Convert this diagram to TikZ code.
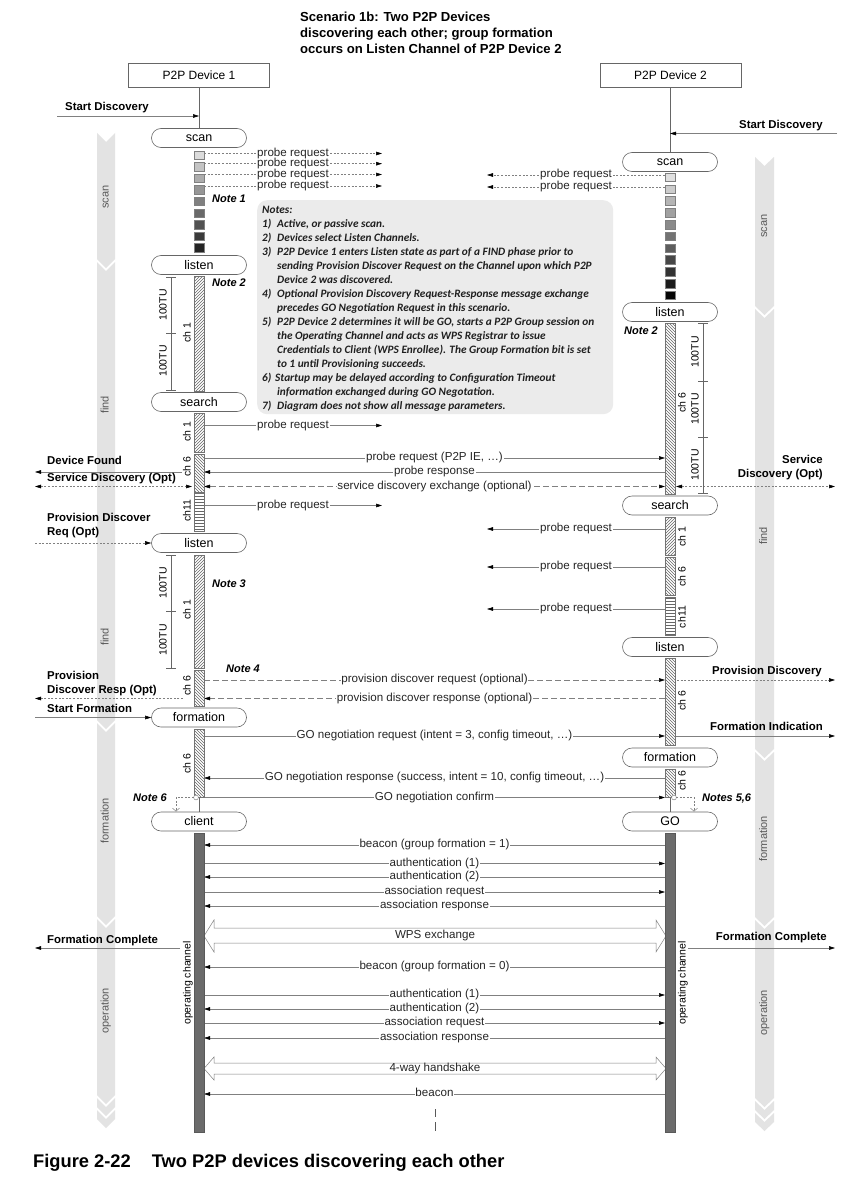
\documentclass[tikz,border=0pt]{standalone}
\usepackage{fontspec}
\setmainfont{Liberation Sans}
\newfontfamily\notefont{Carlito}
\usetikzlibrary{arrows.meta,patterns}
\newcommand\bandseg[4]{\fill[black!11] (#1,#3) -- ({(#1+#2)/2},{#3+9}) -- (#2,#3) -- (#2,#4) -- ({(#1+#2)/2},{#4+9}) -- (#1,#4) -- cycle;}
\newcommand\msgR[3][]{\draw[msg,->,#1] (204,#2) -- node[lbl]{#3} (665,#2);}
\newcommand\msgL[3][]{\draw[msg,->,#1] (665,#2) -- node[lbl]{#3} (204,#2);}
\begin{document}
\begin{tikzpicture}[x=1pt,y=-1pt,
  >={Triangle[length=6pt,width=3.6pt,color=black]},
  tx/.style={inner sep=0pt, text height=0.72em, text depth=0.2em},
  devbox/.style={draw=black!60, line width=0.6pt, minimum width=141pt, minimum height=24pt, inner sep=0pt, font=\fontsize{12}{14}\selectfont},
  pill/.style={draw=black!60, line width=0.6pt, rounded corners=9.5pt, minimum width=95pt, minimum height=19pt, inner sep=0pt, fill=white, font=\fontsize{12.5}{14}\selectfont},
  msg/.style={draw=black!50, line width=0.5pt},
  fdash/.style={dash pattern=on 2pt off 1.6pt},
  ldash/.style={dash pattern=on 6pt off 3pt},
  lbl/.style={tx, fill=white, inner xsep=0.8pt, font=\fontsize{11.6}{13}\selectfont, text=black!85},
  side/.style={tx, font=\bfseries\fontsize{11.4}{13}\selectfont},
  notelbl/.style={tx, font=\bfseries\itshape\fontsize{11}{13}\selectfont},
  chl/.style={tx, rotate=90, fill=white, inner sep=0.5pt, font=\fontsize{10.5}{12}\selectfont},
  tul/.style={tx, rotate=90, font=\fontsize{10.5}{12}\selectfont},
  bandl/.style={tx, rotate=90, font=\fontsize{11}{13}\selectfont, text=black!65},
  barbox/.style={draw=black!55, line width=0.4pt},
  hne/.style={barbox, pattern=north east lines, pattern color=black!60},
  hnw/.style={barbox, pattern=north west lines, pattern color=black!60},
  hhz/.style={barbox, pattern=horizontal lines, pattern color=black!60},
  opbar/.style={draw=black!65, fill=black!58},
  blockarr/.style={draw=black!50, line width=0.5pt, fill=white},
  elbow/.style={draw=black!50, line width=0.5pt, dash pattern=on 2pt off 1.5pt, -{Straight Barb[length=3pt,width=7pt,color=black!50]}},
]
\useasboundingbox (0,0) rectangle (860,1196);
\fill[white] (0,0) rectangle (860,1196);

% phase bands
\bandseg{97}{115}{133}{259}
\bandseg{97}{115}{262}{720}
\bandseg{97}{115}{723}{916}
\bandseg{97}{115}{919}{1095}
\bandseg{97}{115}{1098}{1107}
\bandseg{97}{115}{1110}{1119}
\bandseg{755}{774}{157}{306}
\bandseg{755}{774}{309}{749}
\bandseg{755}{774}{752}{917}
\bandseg{755}{774}{920}{1098}
\bandseg{755}{774}{1101}{1110}
\bandseg{755}{774}{1113}{1122}
\node[bandl] (bl1) at (106,197) {scan};
\node[bandl] (bl2) at (106,405) {find};
\node[bandl] (bl3) at (106,637) {find};
\node[bandl] (bl4) at (106,821) {formation};
\node[bandl] (bl5) at (106,1011) {operation};
\node[bandl] (br1) at (764.5,226) {scan};
\node[bandl] (br2) at (764.5,536) {find};
\node[bandl] (br3) at (764.5,839) {formation};
\node[bandl] (br4) at (764.5,1013) {operation};

% title
\node[tx, anchor=west, font=\bfseries\fontsize{13.1}{16}\selectfont] (t1) at (300,19) {Scenario 1b: Two P2P Devices};
\node[tx, anchor=west, font=\bfseries\fontsize{13.1}{16}\selectfont] (t2) at (300,35) {discovering each other; group formation};
\node[tx, anchor=west, font=\bfseries\fontsize{13.1}{16}\selectfont] (t3) at (300,51) {occurs on Listen Channel of P2P Device 2};

% notes box
\node[fill=black!8, rounded corners=10pt, minimum width=356pt, minimum height=214pt, anchor=north west, inner sep=0pt] (notesbox) at (257,200) {};
\node[anchor=north west, inner sep=0pt, align=left, font=\notefont\bfseries\itshape\fontsize{11.3}{14}\selectfont, text=black!88] (notes) at (262,205.5) {Notes:\\
\makebox[15pt][l]{1)}Active, or passive scan.\\
\makebox[15pt][l]{2)}Devices select Listen Channels.\\
\makebox[15pt][l]{3)}P2P Device 1 enters Listen state as part of a FIND phase prior to\\
\hspace*{15pt}sending Provision Discover Request on the Channel upon which P2P\\
\hspace*{15pt}Device 2 was discovered.\\
\makebox[15pt][l]{4)}Optional Provision Discovery Request-Response message exchange\\
\hspace*{15pt}precedes GO Negotiation Request in this scenario.\\
\makebox[15pt][l]{5)}P2P Device 2 determines it will be GO, starts a P2P Group session on\\
\hspace*{15pt}the Operating Channel and acts as WPS Registrar to issue\\
\hspace*{15pt}Credentials to Client (WPS Enrollee). The Group Formation bit is set\\
\hspace*{15pt}to 1 until Provisioning succeeds.\\
\makebox[13pt][l]{6)}Startup may be delayed according to Configuration Timeout\\
\hspace*{15pt}information exchanged during GO Negotation.\\
\makebox[15pt][l]{7)}Diagram does not show all message parameters.};

% devices and lifelines
\node[devbox] (d1) at (199,75) {P2P Device 1};
\node[devbox] (d2) at (670.5,75) {P2P Device 2};
\node[pill] (s1) at (199,138) {scan};
\node[pill] (l1) at (199,265) {listen};
\node[pill] (se1) at (199,402) {search};
\node[pill] (l1b) at (199,543) {listen};
\node[pill] (f1) at (199,717.5) {formation};
\node[pill] (c1) at (199,821.5) {client};
\node[pill] (s2) at (670,162) {scan};
\node[pill] (l2) at (670,312) {listen};
\node[pill] (se2) at (670,505.5) {search};
\node[pill] (l2b) at (670,647) {listen};
\node[pill] (f2) at (670,757.5) {formation};
\node[pill] (g2) at (670,821.5) {GO};
\draw[black!60] (d1.south) -- (s1.north);
\draw[black!60] (d2.south -| s2.north) -- (s2.north);
\draw[black!60] (199,798) -- (c1.north);
\draw[black!60] (670,798) -- (g2.north);

% start discovery
\node[side, anchor=west] (sdl) at (65,108) {Start Discovery};
\draw[msg,->] (57,116) -- (199,116);
\node[side, anchor=east] (sdr) at (823,126) {Start Discovery};
\draw[msg,->] (837,133.5) -- (670,133.5);

% scan probes
\foreach \y in {153.5,163.7,174.5,186}{\draw[msg,fdash,->] (204,\y) -- node[lbl]{probe request} (382,\y);}
\foreach \y in {175,187}{\draw[msg,fdash,->] (665,\y) -- node[lbl]{probe request} (487,\y);}
\foreach \i in {0,...,8}{\pgfmathtruncatemacro\c{14+\i*9}\draw[black!50, fill=black!\c] (194,{150.7+\i*11.6}) rectangle (204,{159.2+\i*11.6});}
\foreach \i in {0,...,10}{\pgfmathtruncatemacro\c{12+\i*8.6}\draw[black!50, fill=black!\c] (665,{173+\i*11.8}) rectangle (675,{181.5+\i*11.8});}

% find phase messages
\draw[msg,->] (204,425.5) -- node[lbl]{probe request} (382,425.5);
\draw[msg,->] (204,505.5) -- node[lbl]{probe request} (382,505.5);
\msgR{458}{probe request (P2P IE, …)}
\msgL{472}{probe response}
\draw[msg,ldash,<->] (204,486.5) -- node[lbl]{service discovery exchange (optional)} (665,486.5);
\draw[msg,->] (665,529) -- node[lbl]{probe request} (487,529);
\draw[msg,->] (665,567) -- node[lbl]{probe request} (487,567);
\draw[msg,->] (665,609) -- node[lbl]{probe request} (487,609);
\msgR[ldash]{680}{provision discover request (optional)}
\msgL[ldash]{698.5}{provision discover response (optional)}

% side arrows
\node[side, anchor=west] (dfound) at (47,462) {Device Found};
\draw[msg,->] (182,472) -- (35,472);
\node[side, anchor=west] (sdo) at (47,479) {Service Discovery (Opt)};
\draw[msg,fdash,<->] (35,486.5) -- (192,486.5);
\node[side, anchor=east] (sdr1) at (823,461) {Service};
\node[side, anchor=east] (sdr2) at (823,475) {Discovery (Opt)};
\draw[msg,fdash,<->] (676,486.5) -- (835,486.5);
\node[side, anchor=west] (pdr1) at (47,519) {Provision Discover};
\node[side, anchor=west] (pdr2) at (47,533) {Req (Opt)};
\draw[msg,fdash,->] (35,543) -- (l1b.west);
\node[side, anchor=west] (pdp1) at (47,677) {Provision};
\node[side, anchor=west] (pdp2) at (47,691) {Discover Resp (Opt)};
\draw[msg,fdash,->] (183,698.5) -- (35,698.5);
\node[side, anchor=east] (pdisc) at (822,672) {Provision Discovery};
\draw[msg,fdash,->] (677,680) -- (835,680);
\node[side, anchor=west] (sform) at (47,710) {Start Formation};
\draw[msg,->] (35,717.5) -- (f1.west);
\node[side, anchor=east] (find) at (823,728) {Formation Indication};
\draw[msg,->] (676,736) -- (835,736);

% formation
\msgR{736}{GO negotiation request (intent = 3, config timeout, …)}
\msgL{778}{GO negotiation response (success, intent = 10, config timeout, …)}
\msgR{797.5}{GO negotiation confirm}

% operation
\msgL{845}{beacon (group formation = 1)}
\msgR{863.5}{authentication (1)}
\msgL{877}{authentication (2)}
\msgR{892}{association request}
\msgL{906}{association response}
\draw[blockarr] (204,936) -- (214,920) -- (214,928) -- (656,928) -- (656,920) -- (666,936) -- (656,952) -- (656,943) -- (214,943) -- (214,952) -- cycle;
\node[lbl, fill=none] (wps) at (435,935.5) {WPS exchange};
\msgL{967}{beacon (group formation = 0)}
\msgR{995}{authentication (1)}
\msgL{1009}{authentication (2)}
\msgR{1023}{association request}
\msgL{1038}{association response}
\draw[blockarr] (204,1068.5) -- (214,1057) -- (214,1063) -- (656,1063) -- (656,1057) -- (666,1068.5) -- (656,1080) -- (656,1074) -- (214,1074) -- (214,1080) -- cycle;
\node[lbl, fill=none] (fourway) at (435,1068.5) {4-way handshake};
\msgL{1094}{beacon}
\draw[black!65, line width=0.6pt] (435,1109) -- (435,1117);
\draw[black!65, line width=0.6pt] (435,1122) -- (435,1131);
\node[side, anchor=west] (fcl) at (47,940.5) {Formation Complete};
\draw[msg,->] (180,948) -- (35,948);
\node[side, anchor=east] (fcr) at (827,938) {Formation Complete};
\draw[msg,->] (688,948) -- (835,948);

% bars device 1
\draw[hne] (194,276) rectangle (204,391);
\draw[hne] (194,413.5) rectangle (204,452.5);
\draw[hnw] (194,454) rectangle (204,492);
\draw[hhz] (194,493.5) rectangle (204,531);
\draw[hne] (194,555) rectangle (204,668);
\draw[hnw] (194,670) rectangle (204,706);
\draw[hnw] (194,729) rectangle (204,797.5);
\draw[opbar] (194,833) rectangle (204,1132);
% bars device 2
\draw[hnw] (665,323) rectangle (675,494);
\draw[hne] (665,517) rectangle (675,555.5);
\draw[hnw] (665,557) rectangle (675,595.5);
\draw[hhz] (665,597) rectangle (675,635.5);
\draw[hnw] (665,658.5) rectangle (675,745.5);
\draw[hnw] (665,769) rectangle (675,797.5);
\draw[opbar] (665,833) rectangle (675,1132);

% note 6 elbows
\draw[black!55, fill=white] (196,797.5) circle (2.4);
\draw[black!55, fill=white] (674,797.5) circle (2.4);
\draw[elbow] (193.6,797.5) -- (176,797.5) -- (176,811.5);
\draw[elbow] (676.4,797.5) -- (694,797.5) -- (694,811.5);

% timing brackets
\draw[black!60] (171,277) -- (171,390);
\foreach \y in {277,333,390}{\draw[black!60] (166,\y) -- (176,\y);}
\node[tul] (tu1) at (164,305) {100TU};
\node[tul] (tu2) at (164,361) {100TU};
\draw[black!60] (171,555) -- (171,668);
\foreach \y in {555,611,668}{\draw[black!60] (166,\y) -- (176,\y);}
\node[tul] (tu3) at (164,583) {100TU};
\node[tul] (tu4) at (164,640) {100TU};
\draw[black!60] (703,323) -- (703,493);
\foreach \y in {323,381,437,493}{\draw[black!60] (698,\y) -- (708,\y);}
\node[tul] (tu5) at (696,352) {100TU};
\node[tul] (tu6) at (696,409) {100TU};
\node[tul] (tu7) at (696,465) {100TU};

% channel labels
\node[chl] (ch1a) at (188,333) {ch 1};
\node[chl] (ch1b) at (188,432) {ch 1};
\node[chl] (ch6a) at (188,467) {ch 6};
\node[chl] (ch11a) at (188,511) {ch11};
\node[chl] (ch1c) at (188,610) {ch 1};
\node[chl] (ch6b) at (188,686) {ch 6};
\node[chl] (ch6c) at (188,764) {ch 6};
\node[chl] (op1) at (188,983) {operating channel};
\node[chl] (ch6d) at (683,403) {ch 6};
\node[chl] (ch1d) at (683,537) {ch 1};
\node[chl] (ch6e) at (683,577) {ch 6};
\node[chl] (ch11b) at (683,617) {ch11};
\node[chl] (ch6f) at (683,701) {ch 6};
\node[chl] (ch6g) at (683,781) {ch 6};
\node[chl] (op2) at (683,983) {operating channel};

% note labels
\node[notelbl, anchor=west] (n1) at (212,200) {Note 1};
\node[notelbl, anchor=west] (n2a) at (212,284) {Note 2};
\node[notelbl, anchor=west] (n2b) at (624,332) {Note 2};
\node[notelbl, anchor=west] (n3) at (212,585) {Note 3};
\node[notelbl, anchor=west] (n4) at (226,670) {Note 4};
\node[notelbl, anchor=east] (n6) at (167,799) {Note 6};
\node[notelbl, anchor=west] (n56) at (702,799) {Notes 5,6};

% caption
\node[tx, anchor=west, font=\bfseries\fontsize{18.3}{22}\selectfont] (cap1) at (33,1165) {Figure 2-22};
\node[tx, anchor=west, font=\bfseries\fontsize{18.3}{22}\selectfont] (cap2) at (151.7,1165) {Two P2P devices discovering each other};
\end{tikzpicture}
\end{document}
